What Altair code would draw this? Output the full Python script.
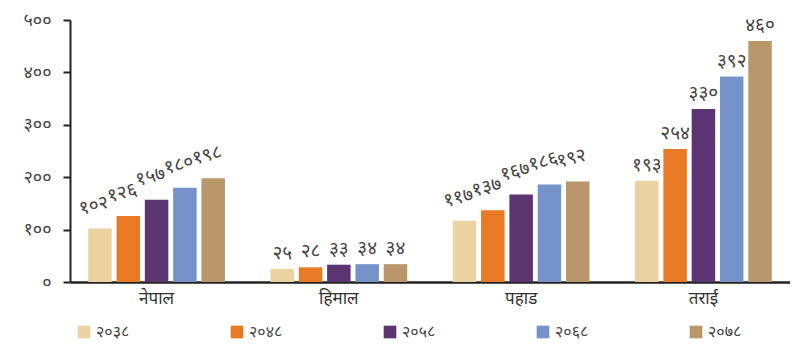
import altair as alt
import pandas as pd

categories = ["नेपाल", "हिमाल", "पहाड", "तराई"]
years = ["२०३८", "२०४८", "२०५८", "२०६८", "२०७८"]
v2038 = [102, 25, 117, 193]
v2048 = [126, 28, 137, 254]
v2058 = [157, 33, 167, 330]
v2068 = [180, 34, 186, 392]
v2078 = [198, 34, 192, 460]
y_tick_labels = ["०", "१००", "२००", "३००", "४००", "५००"]
colors = ["#EAD3A0", "#E97A25", "#5C3471", "#7593CA", "#BA966B"]
rotated_groups = ["नेपाल", "पहाड"]

DEV = str.maketrans("0123456789", "०१२३४५६७८९")
rows = []
for y, vals in zip(years, [v2038, v2048, v2058, v2068, v2078]):
    for c, v in zip(categories, vals):
        rows.append({"cat": c, "year": y, "val": v, "lab": str(v).translate(DEV)})
df = pd.DataFrame(rows)

FONT = "Noto Sans"
label_arr = "[" + ",".join("'%s'" % s for s in y_tick_labels) + "]"

x = alt.X("cat:N", sort=categories, title=None,
          scale=alt.Scale(paddingInner=0.25, paddingOuter=0.1),
          axis=alt.Axis(labelAngle=0, ticks=False, domainColor="#222", domainWidth=2.5,
                        labelFont=FONT, labelFontSize=17, labelColor="#333", labelPadding=8))
xo = alt.XOffset("year:N", sort=years, scale=alt.Scale(paddingInner=0.17))

base = alt.Chart(df)
bars = base.mark_bar().encode(
    x=x, xOffset=xo,
    y=alt.Y("val:Q", title=None, scale=alt.Scale(domain=[0, 500]),
            axis=alt.Axis(values=[0, 100, 200, 300, 400, 500], grid=False,
                          labelExpr=label_arr + "[round(datum.value/100)]",
                          domainColor="#222", domainWidth=2, tickColor="#222", tickWidth=2,
                          tickSize=7, labelPadding=12, labelFont=FONT, labelFontSize=18,
                          labelColor="#444")),
    color=alt.Color("year:N", sort=years, scale=alt.Scale(domain=years, range=colors),
                    legend=alt.Legend(title=None, orient="none", direction="horizontal",
                                      columns=5, legendX=6, legendY=304, symbolType="square",
                                      symbolSize=160, symbolStrokeWidth=0, columnPadding=99,
                                      labelFont=FONT, labelFontSize=16, labelColor="#444",
                                      labelOffset=4)),
)
pred = alt.FieldOneOfPredicate(field="cat", oneOf=rotated_groups)
text_style = dict(baseline="bottom", fontSize=19, font=FONT, color="#444")
texts_flat = base.transform_filter(~pred).mark_text(dy=-6, **text_style).encode(
    x=x, xOffset=xo, y="val:Q", text="lab:N")
texts_rot = base.transform_filter(pred).mark_text(dy=-14, angle=345, **text_style).encode(
    x=x, xOffset=xo, y="val:Q", text="lab:N")

chart = (bars + texts_flat + texts_rot).properties(
    width=720, height=262,
    autosize=alt.AutoSizeParams(type="none"),
    padding={"left": 62, "top": 12, "right": 0, "bottom": 61},
).configure_view(stroke=None)
chart.save("out.html", embed_options={"renderer": "svg", "actions": False})
